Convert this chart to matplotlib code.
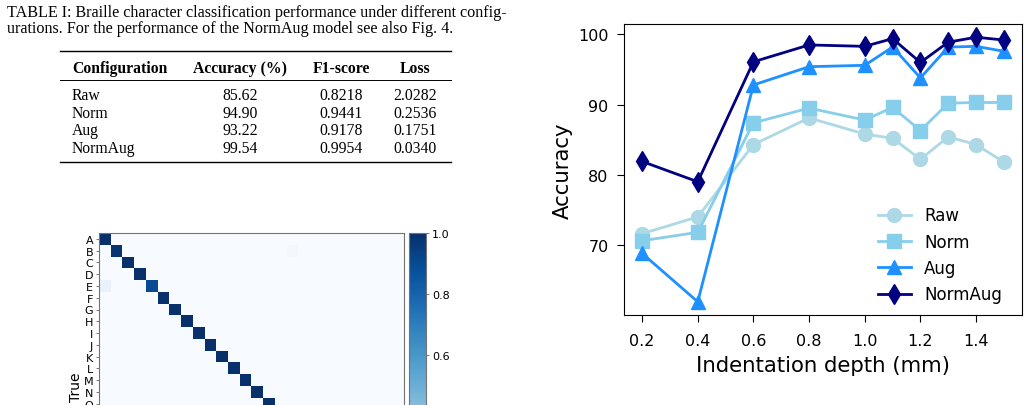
import numpy as np
import matplotlib
matplotlib.use("Agg")
import matplotlib.pyplot as plt
from matplotlib.ticker import MultipleLocator

# line chart data
depth = [0.2, 0.4, 0.6, 0.8, 1.0, 1.1, 1.2, 1.3, 1.4, 1.5]
acc_raw = [71.6, 74.0, 84.3, 88.1, 85.8, 85.2, 82.2, 85.4, 84.3, 81.8]
acc_norm = [70.6, 71.8, 87.4, 89.5, 87.8, 89.6, 86.3, 90.2, 90.3, 90.3]
acc_aug = [68.8, 61.9, 92.8, 95.4, 95.6, 98.2, 93.8, 98.2, 98.3, 97.6]
acc_normaug = [81.9, 79.0, 96.1, 98.5, 98.3, 99.4, 96.0, 98.9, 99.6, 99.2]

# table I
caption = ["TABLE I: Braille character classification performance under different config-",
           "urations. For the performance of the NormAug model see also Fig. 4."]
headers = ["Configuration", "Accuracy (%)", "F1-score", "Loss"]
configs = ["Raw", "Norm", "Aug", "NormAug"]
accuracy = ["85.62", "94.90", "93.22", "99.54"]
f1 = ["0.8218", "0.9441", "0.9178", "0.9954"]
loss = ["2.0282", "0.2536", "0.1751", "0.0340"]

# confusion matrix (NormAug), only the top rows are visible
letters = list("ABCDEFGHIJKLMNOPQRSTUVWXYZ")
diag = [1.0, 0.98, 1.0, 1.0, 0.9, 1.0, 1.0, 1.0, 1.0, 1.0, 1.0, 1.0, 1.0,
        1.0, 1.0, 1.0, 1.0, 1.0, 1.0, 1.0, 1.0, 1.0, 1.0, 1.0, 1.0, 1.0]
off_rows = [4, 1]
off_cols = [0, 16]
off_vals = [0.07, 0.02]
n_visible = 15  # rows A..O show up in the crop

fig = plt.figure(figsize=(10.29, 4.06), dpi=100)

## overlay in pixel units for the table
ax_t = fig.add_axes([0, 0, 1, 1])
ax_t.set_xlim(0, 1029)
ax_t.set_ylim(406, 0)
ax_t.axis("off")
serif = "Liberation Serif"
fs = 11.3
ax_t.text(7, 17.3, caption[0], family=serif, fontsize=11.6, va="baseline")
ax_t.text(7, 33.3, caption[1], family=serif, fontsize=11.6, va="baseline")

col_x = [72, 240, 341, 415.5]
ax_t.text(col_x[0], 72.7, headers[0], family=serif, fontsize=fs, weight="bold", va="baseline")
for x, h in zip(col_x[1:], headers[1:]):
    ax_t.text(x, 72.7, h, family=serif, fontsize=fs, weight="bold", va="baseline", ha="center")
row_y = [100, 117.7, 135.3, 153]
for i in range(len(configs)):
    ax_t.text(col_x[0], row_y[i], configs[i], family=serif, fontsize=fs, va="baseline")
    for x, v in zip(col_x[1:], [accuracy[i], f1[i], loss[i]]):
        ax_t.text(x, row_y[i], v, family=serif, fontsize=fs, va="baseline", ha="center")
ax_t.plot([60, 451], [51.7, 51.7], color="black", lw=1.0)
ax_t.plot([60, 451], [80.7, 80.7], color="black", lw=0.7)
ax_t.plot([60, 451], [163.3, 163.3], color="black", lw=1.0)

## confusion matrix
cm = np.zeros((26, 26))
cm[np.arange(26), np.arange(26)] = diag
cm[off_rows, off_cols] = off_vals
ax_cm = fig.add_axes([99.3 / 1029, -134 / 406, 304.7 / 1029, 306 / 406])
im = ax_cm.imshow(cm, cmap="Blues", vmin=0, vmax=1, aspect="auto", interpolation="nearest")
ax_cm.set_yticks(range(n_visible))
ax_cm.set_yticklabels(letters[:n_visible], fontsize=8)
ax_cm.set_xticks([])
ax_cm.tick_params(axis="y", length=2.5, width=0.6, pad=2, color="0.4")
ax_cm.set_ylabel("True", fontsize=10, labelpad=2)
ax_cm.yaxis.set_label_coords(-0.0525, 0.5)
for s in ax_cm.spines.values():
    s.set_color("0.45")
    s.set_linewidth(0.8)
ax_cb = fig.add_axes([409.3 / 1029, -134 / 406, 16.4 / 1029, 306 / 406])
cb = fig.colorbar(im, cax=ax_cb)
cb.set_ticks([0.6, 0.8, 1.0])
cb.ax.tick_params(labelsize=8, length=2.5, width=0.6, color="0.4", pad=2)
cb.outline.set_edgecolor("0.45")
cb.outline.set_linewidth(0.8)

## accuracy vs indentation depth
ax = fig.add_axes([624 / 1029, 90 / 406, 398 / 1029, 291 / 406])
ax.plot(depth, acc_raw, marker="o", color="lightblue", lw=2, ms=10, label="Raw")
ax.plot(depth, acc_norm, marker="s", color="skyblue", lw=2, ms=10, label="Norm")
ax.plot(depth, acc_aug, marker="^", color="dodgerblue", lw=2, ms=10, label="Aug")
ax.plot(depth, acc_normaug, marker="d", color="navy", lw=2, ms=10, label="NormAug")
ax.yaxis.set_major_locator(MultipleLocator(10))
ax.set_xlabel("Indentation depth (mm)", fontsize=15.3, labelpad=5)
ax.set_ylabel("Accuracy", fontsize=15.3)
ax.tick_params(labelsize=11.5, length=5)
ax.tick_params(axis="x", pad=8)
ax.tick_params(axis="y", pad=6)
ax.legend(loc="lower right", frameon=False, fontsize=12, bbox_to_anchor=(0.988, -0.012))

plt.savefig("out.png", dpi=100)
